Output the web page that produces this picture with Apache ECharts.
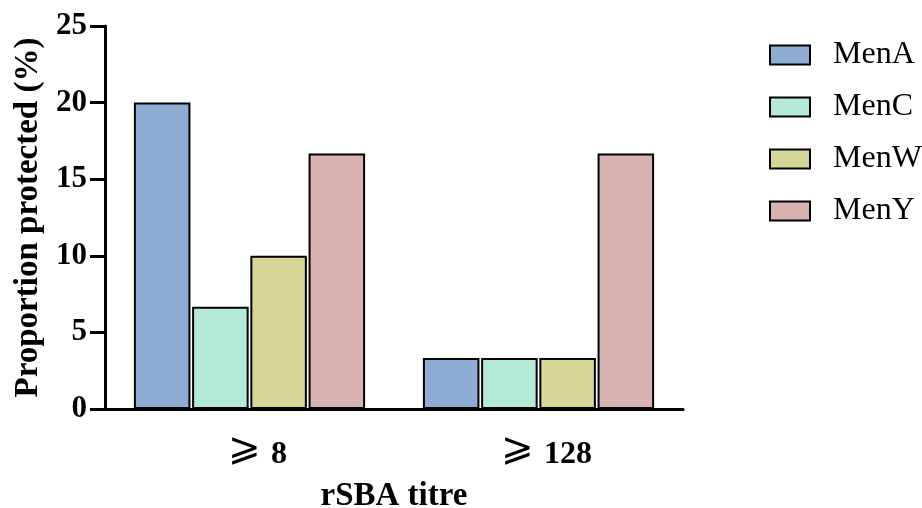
<!DOCTYPE html>
<html><head><meta charset="utf-8">
<script src="https://cdn.jsdelivr.net/npm/echarts@6/dist/echarts.min.js"></script>
<style>html,body{margin:0;padding:0;background:#fff}#c{width:922px;height:508px}</style>
</head><body><div id="c"></div>
<script>
const categories = ['⩾ 8', '⩾ 128'];
const seriesNames = ['MenA', 'MenC', 'MenW', 'MenY'];
const menA = [20, 3.33];
const menC = [6.67, 3.33];
const menW = [10, 3.33];
const menY = [16.67, 16.67];
const yTicks = [0, 5, 10, 15, 20, 25];
const colors = ['#8DABD3', '#B4EAD7', '#D6D699', '#D8B1B1'];
const values = [menA, menC, menW, menY];

const serif = '"Liberation Serif", "Times New Roman", "DejaVu Serif", serif';
const chart = echarts.init(document.getElementById('c'));
chart.setOption({
  animation: false,
  grid: { left: 105, right: 239, top: 26, bottom: 99, containLabel: false, outerBoundsMode: 'none' },
  legend: {
    orient: 'vertical', left: 769, top: 39, padding: 0,
    itemWidth: 40, itemHeight: 19, itemGap: 20,
    icon: 'rect',
    textStyle: { fontFamily: serif, fontSize: 32, color: '#000', padding: [0, 0, 0, 18] },
    data: seriesNames
  },
  xAxis: {
    type: 'category', data: categories,
    axisLine: { lineStyle: { color: '#000', width: 3 } },
    axisTick: { length: 15, lineStyle: { color: '#000', width: 3 }, alignWithLabel: true },
    axisLabel: {
      color: '#000', margin: 21, padding: [0, 0, 0, 16],
      formatter: v => { const p = v.split(' '); return '{s|' + p[0] + '}{n|' + p[1] + '}'; },
      rich: {
        s: { fontFamily: serif, fontWeight: 'normal', fontSize: 39, color: '#000', padding: [0, 10, 10, 0] },
        n: { fontFamily: serif, fontWeight: 'bold', fontSize: 32, color: '#000' }
      }
    },
    name: 'rSBA titre', nameLocation: 'middle', nameGap: 71,
    nameTextStyle: { fontFamily: serif, fontWeight: 'bold', fontSize: 33, color: '#000' }
  },
  yAxis: {
    type: 'value', min: 0, max: 25, interval: 5,
    axisLine: { show: true, lineStyle: { color: '#000', width: 3 } },
    axisTick: { show: true, length: 15, lineStyle: { color: '#000', width: 3 } },
    splitLine: { show: false },
    axisLabel: { fontFamily: serif, fontWeight: 'bold', fontSize: 31, color: '#000', margin: 18,
      formatter: v => yTicks.includes(v) ? String(v) : '' },
    name: 'Proportion protected (%)', nameLocation: 'middle', nameGap: 60,
    nameTextStyle: { fontFamily: serif, fontWeight: 'bold', fontSize: 33, color: '#000' }
  },
  series: seriesNames.map((n, i) => ({
    name: n, type: 'bar', data: values[i],
    barGap: '3%', barCategoryGap: '20%',
    itemStyle: { color: colors[i], borderColor: '#000', borderWidth: 2 }
  }))
});
</script></body></html>
